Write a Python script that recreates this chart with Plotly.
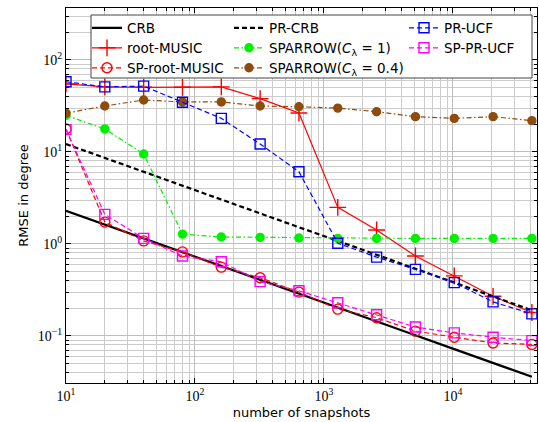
import plotly.graph_objects as go

snapshots = [10, 20, 40, 80, 160, 320, 640, 1280, 2560, 5120, 10240, 20480, 40960]
crb = [2.3, 1.63, 1.15, 0.81, 0.575, 0.41, 0.29, 0.203, 0.144, 0.102, 0.072, 0.051, 0.036]
pr_crb = [12.2, 8.6, 6.1, 4.3, 3.05, 2.16, 1.52, 1.08, 0.76, 0.54, 0.38, 0.27, 0.19]
root_music = [55, 51, 50.5, 50.5, 51, 38, 26.5, 2.5, 1.42, 0.74, 0.45, 0.27, 0.18]
sp_root_music = [17.8, 1.73, 1.08, 0.82, 0.56, 0.43, 0.30, 0.196, 0.158, 0.113, 0.097, 0.084, 0.081]
sparrow1 = [25, 17.8, 9.5, 1.28, 1.19, 1.18, 1.16, 1.15, 1.15, 1.15, 1.15, 1.15, 1.15]
sparrow04 = [26.4, 31.6, 36.7, 35, 35, 31.6, 31, 30, 27.4, 24.2, 23.2, 24.2, 21.9]
pr_ucf = [58, 51, 52, 34.7, 23.2, 12.2, 6.1, 1.02, 0.72, 0.53, 0.38, 0.235, 0.174]
sp_pr_ucf = [17.5, 2.1, 1.15, 0.74, 0.64, 0.39, 0.31, 0.23, 0.17, 0.125, 0.108, 0.097, 0.089]

x_tickvals = [10, 100, 1000, 10000]
x_ticktext = ["10<sup>1</sup>", "10<sup>2</sup>", "10<sup>3</sup>", "10<sup>4</sup>"]
y_tickvals = [0.1, 1, 10, 100]
y_ticktext = ["10<sup>−1</sup>", "10<sup>0</sup>", "10<sup>1</sup>", "10<sup>2</sup>"]

x_minor = [m * 10 ** k for k in range(1, 5) for m in range(2, 10)]
y_minor = [m * 10.0 ** k for k in range(-2, 3) for m in range(2, 10)]

BLUE = "#0000ff"
RED = "#ff0000"
MAG = "#ff00ff"
GREEN = "#00f000"
BROWN = "#8f4c0d"
DASH = "5px,3px"
DASHDOT = "5px,2.5px,1.5px,2.5px"

fig = go.Figure()

def add(y, name, color, dash, symbol=None, msize=10, legend="legend", width=1.2):
    mode = "lines+markers" if symbol else "lines"
    marker = None
    if symbol:
        marker = dict(symbol=symbol, size=msize, color=color,
                      line=dict(color=color, width=1.4))
    fig.add_trace(go.Scatter(x=snapshots, y=y, name=name, mode=mode,
                             line=dict(color=color, dash=dash, width=width),
                             marker=marker, legend=legend, showlegend=True))

add(crb, "CRB", "black", "solid", width=2.2, legend="legend")
add(root_music, "root-MUSIC", RED, "solid", "cross-thin-open", 12, "legend2")
add(sp_root_music, "SP-root-MUSIC", RED, DASH, "circle-open", 10, "legend3")
add(pr_crb, "PR-CRB", "black", DASH, width=2.2, legend="legend4")
add(sparrow1, "SPARROW(<i>C</i><sub>λ</sub> = 1)", GREEN, DASHDOT, "circle", 8, "legend5")
add(sparrow04, "SPARROW(<i>C</i><sub>λ</sub> = 0.4)", BROWN, DASHDOT, "circle", 8, "legend6")
add(pr_ucf, "PR-UCF", BLUE, DASH, "square-open", 10, "legend7")
add(sp_pr_ucf, "SP-PR-UCF", MAG, DASH, "square-open", 10, "legend8")

L, R, T, B = 66, 2, 8, 39
W, H = 539, 422
pw, ph = W - L - R, H - T - B

def px(x):
    return (x - L) / pw

def py(y):
    return (H - B - y) / ph

legfont = dict(family="DejaVu Sans", size=13.5, color="black")
common = dict(bgcolor="rgba(0,0,0,0)", borderwidth=0, font=legfont,
              itemwidth=30, yanchor="middle", xanchor="left",
              itemclick=False, itemdoubleclick=False)

cols = [87, 229, 404]
rows = [28, 48, 68]

axis_common = dict(type="log", showline=True, linecolor="black", linewidth=1,
                   mirror="allticks", ticks="inside", ticklen=5, tickcolor="black",
                   showgrid=True, gridcolor="#bdbdbd", gridwidth=1,
                   zeroline=False,
                   tickfont=dict(family="Liberation Serif", size=14, color="black"))

fig.update_layout(
    width=W, height=H,
    margin=dict(l=L, r=R, t=T, b=B),
    plot_bgcolor="white", paper_bgcolor="white",
    showlegend=True,
    xaxis=dict(axis_common, range=[1, 4.652], tickvals=x_tickvals, ticktext=x_ticktext,
               minor=dict(tickvals=x_minor, ticks="inside", ticklen=3, tickcolor="black",
                          showgrid=True, gridcolor="#cccccc", gridwidth=1),
               title=dict(text="number of snapshots", standoff=5,
                          font=dict(family="DejaVu Sans", size=13, color="black"))),
    yaxis=dict(axis_common, range=[-1.511, 2.565], tickvals=y_tickvals, ticktext=y_ticktext,
               minor=dict(tickvals=y_minor, ticks="inside", ticklen=3, tickcolor="black",
                          showgrid=True, gridcolor="#cccccc", gridwidth=1),
               title=dict(text="RMSE in degree", standoff=6,
                          font=dict(family="DejaVu Sans", size=13, color="black"))),
    legend=dict(common, x=px(cols[0]), y=py(rows[0])),
    legend2=dict(common, x=px(cols[0]), y=py(rows[1])),
    legend3=dict(common, x=px(cols[0]), y=py(rows[2])),
    legend4=dict(common, x=px(cols[1]), y=py(rows[0])),
    legend5=dict(common, x=px(cols[1]), y=py(rows[1])),
    legend6=dict(common, x=px(cols[1]), y=py(rows[2])),
    legend7=dict(common, x=px(cols[2]), y=py(rows[0])),
    legend8=dict(common, x=px(cols[2]), y=py(rows[1])),
    shapes=[dict(type="rect", xref="paper", yref="paper", layer="above",
                 x0=px(91), x1=px(532), y0=py(78), y1=py(15),
                 fillcolor="white", line=dict(color="#444444", width=1))],
)

fig.write_html("out.html")
